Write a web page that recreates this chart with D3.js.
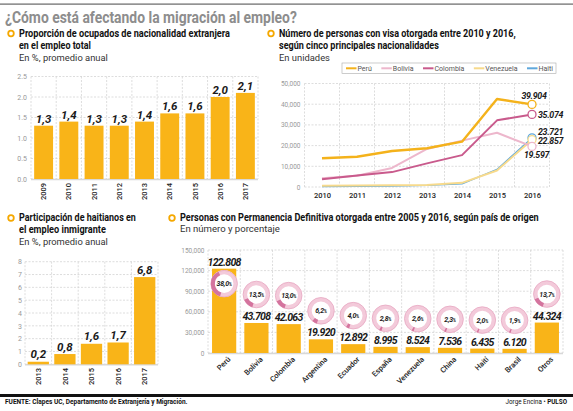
<!DOCTYPE html>
<html><head><meta charset="utf-8">
<script src="https://cdn.jsdelivr.net/npm/d3@7"></script>
<style>body{margin:0;background:#fff}svg{display:block}</style>
</head><body><svg id="c" width="573" height="411"></svg>
<script>
// ---------- DATA ----------
const yearsA = ['2009','2010','2011','2012','2013','2014','2015','2016','2017'];
const valuesA = [1.3,1.4,1.3,1.3,1.4,1.6,1.6,2.0,2.1];
const ticksA = [0,0.5,1.0,1.5,2.0,2.5];

const yearsB = ['2010','2011','2012','2013','2014','2015','2016'];
const peru      = [13900,14600,17400,18700,21900,42500,39904];
const bolivia   = [4200,5400,9200,18400,22400,26200,19597];
const colombia  = [3700,5500,7200,11400,15400,32200,35074];
const venezuela = [600,700,800,1000,2000,8000,22857];
const haiti     = [200,300,400,800,1500,8500,23721];
const seriesNames = ['Perú','Bolivia','Colombia','Venezuela','Haiti'];
const ticksB = [0,10000,20000,30000,40000,50000];

const yearsC = ['2013','2014','2015','2016','2017'];
const valuesC = [0.2,0.8,1.6,1.7,6.8];
const ticksC = [0,1,2,3,4,5,6,7,8];

const countriesD = ['Perú','Bolivia','Colombia','Argentina','Ecuador','España','Venezuela','China','Haití','Brasil','Otros'];
const valuesD = [122808,43708,42063,19920,12892,8995,8524,7536,6435,6120,44324];
const pctD = [38.0,13.5,13.0,6.2,4.0,2.8,2.6,2.3,2.0,1.9,13.7];
const ticksD = [0,30000,60000,90000,120000,150000];

// ---------- STYLE ----------
const F = "Roboto, 'Liberation Sans', sans-serif";
const BAR = '#F9B418';
const GRID = '#cfcfcf';
const colors = {'Perú':'#F4B21B','Bolivia':'#EDB7CC','Colombia':'#C95A8C','Venezuela':'#F7DA8C','Haiti':'#5FA8DC'};

const svg = d3.select('#c');
function T(g, x, y, s, o={}) {
  const t = g.append('text').attr('x',x).attr('y',y).text(s)
    .attr('font-family', o.family||F).attr('font-size', o.size||8)
    .attr('font-weight', o.weight||'normal').attr('font-style', o.style||'normal')
    .attr('fill', o.fill||'#222').attr('text-anchor', o.anchor||'start');
  if (o.ls!=null) t.attr('letter-spacing', o.ls);
  if (o.w) {
    const L = t.node().getComputedTextLength();
    const k = o.w / L;
    t.attr('transform', `translate(${x},0) scale(${k},1) translate(${-x},0)`);
  }
  return t;
}
function bullet(x,y){
  svg.append('circle').attr('cx',x).attr('cy',y).attr('r',2.8)
    .attr('fill','#fff').attr('stroke','#F5A800').attr('stroke-width',1.8);
}
function hline(g,x0,x1,y){ g.append('line').attr('x1',x0).attr('x2',x1).attr('y1',y).attr('y2',y)
  .attr('stroke',GRID).attr('stroke-width',0.7).attr('stroke-dasharray','2,1.5'); }
function vline(g,x,y0,y1){ g.append('line').attr('x1',x).attr('x2',x).attr('y1',y0).attr('y2',y1)
  .attr('stroke',GRID).attr('stroke-width',0.7).attr('stroke-dasharray','2,1.5'); }
function styleAxis(g, size, fill, weight){
  g.select('.domain').remove();
  g.selectAll('text').attr('font-family',F).attr('font-size',size).attr('fill',fill).attr('font-weight',weight||'normal');
}
const dec = v => d3.format('.1f')(v).replace('.',',');
const thou = v => d3.format(',')(v).replace(/,/g,'.');

// ---------- HEADER / FOOTER ----------
svg.append('rect').attr('x',0).attr('y',3.5).attr('width',573).attr('height',1.2).attr('fill','#666');
T(svg,5,23,'¿Cómo está afectando la migración al empleo?',{size:16.5,weight:700,fill:'#8d8d8d',w:292});
svg.append('rect').attr('x',0).attr('y',394).attr('width',573).attr('height',3).attr('fill','#111');
T(svg,5,404,'FUENTE: Clapes UC, Departamento de Extranjería y Migración.',{size:6.3,weight:700,fill:'#111',w:183});
const cr = T(svg,567,404,'',{size:6.3,fill:'#111',anchor:'end'});
cr.append('tspan').text('Jorge Encina • ');
cr.append('tspan').attr('font-weight',700).text('PULSO');

// ---------- PANEL A ----------
bullet(11,33.5);
T(svg,19,37,'Proporción de ocupados de nacionalidad extranjera',{size:10.5,weight:700,fill:'#111',w:211});
T(svg,19,49,'en el empleo total',{size:10.5,weight:700,fill:'#111',w:72});
T(svg,19,61,'En %, promedio anual',{size:9.5,fill:'#333',w:89});
{
  const g = svg.append('g');
  const x = d3.scaleBand().domain(yearsA).range([31,258]).paddingInner(0.25).paddingOuter(0.125);
  const y = d3.scaleLinear().domain([0,2.5]).range([179,76.5]);
  ticksA.forEach(t=>hline(g,31,258,y(t)));
  d3.range(yearsA.length+1).forEach(i=>vline(g,31+i*x.step(),y(2.5),y(0)));
  g.append('line').attr('x1',31).attr('x2',258).attr('y1',y(0)+0.5).attr('y2',y(0)+0.5).attr('stroke','#d8d8d8').attr('stroke-width',1.5);
  g.selectAll('rect.b').data(valuesA).join('rect').attr('class','b')
    .attr('x',(d,i)=>x(yearsA[i])).attr('width',x.bandwidth())
    .attr('y',d=>y(d)).attr('height',d=>y(0)-y(d)).attr('fill',BAR);
  g.selectAll('text.v').data(valuesA).join('text').attr('class','v')
    .attr('x',(d,i)=>x(yearsA[i])+x.bandwidth()/2).attr('y',d=>y(d)-3)
    .attr('text-anchor','middle').attr('font-family',F).attr('font-size',11.5)
    .attr('font-weight',700).attr('font-style','italic').attr('fill','#1a1a1a').text(d=>dec(d));
  const ya = g.append('g').attr('transform','translate(27,0)')
    .call(d3.axisLeft(y).tickValues(ticksA).tickFormat(d3.format('.1f')).tickSize(0).tickPadding(0));
  styleAxis(ya,7,'#999');
  const xa = g.append('g').attr('transform','translate(0,183)')
    .call(d3.axisBottom(x).tickSize(0).tickPadding(0));
  styleAxis(xa,7.5,'#222',500);
  xa.selectAll('text').attr('transform','rotate(-90)').attr('text-anchor','end').attr('x',0).attr('y',0).attr('dy','0.35em');
}

// ---------- PANEL B ----------
bullet(271,33.5);
T(svg,279,37,'Número de personas con visa otorgada entre 2010 y 2016,',{size:10.5,weight:700,fill:'#111',w:237});
T(svg,279,49,'según cinco principales nacionalidades',{size:10.5,weight:700,fill:'#111',w:160});
T(svg,279,61,'En unidades',{size:9.5,fill:'#333',w:51});
{
  const g = svg.append('g');
  const x = d3.scalePoint().domain(yearsB).range([304.5,549.5]).padding(0.5);
  const y = d3.scaleLinear().domain([0,50000]).range([187,83.5]);
  const step = x.step();
  ticksB.forEach(t=>hline(g,304.5,549.5,y(t)));
  d3.range(yearsB.length+1).forEach(i=>vline(g,304.5+i*step,y(50000),y(0)));
  const data = {'Perú':peru,'Bolivia':bolivia,'Colombia':colombia,'Venezuela':venezuela,'Haiti':haiti};
  const widths = {'Perú':2.4,'Bolivia':2,'Colombia':2,'Venezuela':2,'Haiti':1.4};
  const line = d3.line().x((d,i)=>x(yearsB[i])).y(d=>y(d));
  ['Haiti','Venezuela','Bolivia','Colombia','Perú'].forEach(n=>{
    g.append('path').datum(data[n]).attr('d',line).attr('fill','none')
      .attr('stroke',colors[n]).attr('stroke-width',widths[n]).attr('stroke-linejoin','round');
  });
  ['Haiti','Venezuela','Bolivia','Colombia','Perú'].forEach(n=>{
    const v = data[n][data[n].length-1];
    g.append('circle').attr('cx',x('2016')).attr('cy',y(v)).attr('r',4)
      .attr('fill','#fff').attr('stroke',colors[n]).attr('stroke-width',1.3);
  });
  const lab = {'Perú':[2,-5.5,'middle'],'Colombia':[6,3.5,'start'],'Haiti':[6,-3.3,'start'],'Venezuela':[6,4.5,'start'],'Bolivia':[-8,11.6,'start']};
  Object.keys(lab).forEach(n=>{
    const v = data[n][data[n].length-1];
    T(g,x('2016')+lab[n][0],y(v)+lab[n][1],thou(v),{size:8.8,weight:700,style:'italic',fill:'#1a1a1a',anchor:lab[n][2],ls:-0.3});
  });
  const ya = g.append('g').attr('transform','translate(300.5,0)')
    .call(d3.axisLeft(y).tickValues(ticksB).tickFormat(d3.format(',')).tickSize(0).tickPadding(0));
  styleAxis(ya,6.5,'#999');
  const xa = g.append('g').attr('transform','translate(0,193)')
    .call(d3.axisBottom(x).tickSize(0).tickPadding(0));
  styleAxis(xa,7.5,'#222',500);
  // legend
  const lg = svg.append('g');
  lg.append('rect').attr('x',342).attr('y',63).attr('width',214).attr('height',10.5)
    .attr('fill','#fff').attr('stroke','#aaa').attr('stroke-width',0.6);
  const items = seriesNames.map(n=>{
    const ln = lg.append('line').attr('y1',68.3).attr('y2',68.3)
      .attr('stroke',colors[n]).attr('stroke-width',2);
    const t = T(lg,0,71,n,{size:7,fill:'#555'});
    return {ln, t, w: t.node().getComputedTextLength()};
  });
  const total = d3.sum(items, d=>d.w + 11.5);
  const gap = (553 - 346 - total) / (items.length - 1);
  let cx = 346;
  items.forEach(it=>{
    it.ln.attr('x1',cx).attr('x2',cx+10.5);
    it.t.attr('x',cx+11.5);
    cx += 11.5 + it.w + gap;
  });
}

// ---------- PANEL C ----------
bullet(11,218);
T(svg,19,221.5,'Participación de haitianos en',{size:10.5,weight:700,fill:'#111',w:117});
T(svg,19,233.5,'el empleo inmigrante',{size:10.5,weight:700,fill:'#111',w:87});
T(svg,19,245.5,'En %, promedio anual',{size:9.5,fill:'#333',w:89});
{
  const g = svg.append('g');
  const x = d3.scaleBand().domain(yearsC).range([25,158]).paddingInner(0.2).paddingOuter(0.1);
  const y = d3.scaleLinear().domain([0,8]).range([364.3,261.7]);
  ticksC.forEach(t=>hline(g,25,158,y(t)));
  d3.range(yearsC.length+1).forEach(i=>vline(g,25+i*x.step(),y(8),y(0)));
  g.append('line').attr('x1',25).attr('x2',158).attr('y1',y(0)+0.5).attr('y2',y(0)+0.5).attr('stroke','#d8d8d8').attr('stroke-width',1.5);
  g.selectAll('rect.b').data(valuesC).join('rect').attr('class','b')
    .attr('x',(d,i)=>x(yearsC[i])).attr('width',x.bandwidth())
    .attr('y',d=>y(d)).attr('height',d=>y(0)-y(d)).attr('fill',BAR);
  g.selectAll('text.v').data(valuesC).join('text').attr('class','v')
    .attr('x',(d,i)=>x(yearsC[i])+x.bandwidth()/2).attr('y',d=>y(d)-3.5)
    .attr('text-anchor','middle').attr('font-family',F).attr('font-size',11.5)
    .attr('font-weight',700).attr('font-style','italic').attr('fill','#1a1a1a').text(d=>dec(d));
  const ya = g.append('g').attr('transform','translate(22,0)')
    .call(d3.axisLeft(y).tickValues(ticksC).tickFormat(d3.format('d')).tickSize(0).tickPadding(0));
  styleAxis(ya,7,'#999');
  const xa = g.append('g').attr('transform','translate(0,368)')
    .call(d3.axisBottom(x).tickSize(0).tickPadding(0));
  styleAxis(xa,7.5,'#222',500);
  xa.selectAll('text').attr('transform','rotate(-90)').attr('text-anchor','end').attr('x',0).attr('y',0).attr('dy','0.35em');
}

// ---------- PANEL D ----------
bullet(172,218);
T(svg,180,221.5,'Personas con Permanencia Definitiva otorgada entre 2005 y 2016, según país de origen',{size:10.5,weight:700,fill:'#111',w:359});
T(svg,180,232.5,'En número y porcentaje',{size:9.5,fill:'#333',w:100});
{
  const g = svg.append('g');
  const x = d3.scaleBand().domain(countriesD).range([208,563]).paddingInner(0.25).paddingOuter(0.125);
  const y = d3.scaleLinear().domain([0,150000]).range([353,250]);
  ticksD.forEach(t=>hline(g,208,563,y(t)));
  d3.range(countriesD.length+1).forEach(i=>vline(g,208+i*x.step(),y(150000),y(0)));
  g.append('line').attr('x1',208).attr('x2',563).attr('y1',y(0)+0.5).attr('y2',y(0)+0.5).attr('stroke','#d8d8d8').attr('stroke-width',1.5);
  g.selectAll('rect.b').data(valuesD).join('rect').attr('class','b')
    .attr('x',(d,i)=>x(countriesD[i])).attr('width',x.bandwidth())
    .attr('y',d=>y(d)).attr('height',d=>y(0)-y(d)).attr('fill',BAR);
  g.selectAll('text.v').data(valuesD).join('text').attr('class','v')
    .attr('x',(d,i)=>x(countriesD[i])+x.bandwidth()/2).attr('y',d=>y(d)-3)
    .attr('text-anchor','middle').attr('font-family',F).attr('font-size',10.5)
    .attr('font-weight',700).attr('font-style','italic').attr('fill','#1a1a1a')
    .attr('letter-spacing',-0.7).text(d=>thou(d));
  // donuts
  const ringArc = d3.arc().innerRadius(9.3).outerRadius(13.3);
  const a0 = Math.PI*1.1;
  countriesD.forEach((c,i)=>{
    const cx = x(c)+x.bandwidth()/2;
    const cy = i===0 ? y(valuesD[i])+15 : y(valuesD[i])-28.5;
    const dg = g.append('g').attr('transform',`translate(${cx},${cy})`);
    dg.append('circle').attr('r',13.3).attr('fill','#fff');
    dg.append('path').attr('d',ringArc({startAngle:0,endAngle:2*Math.PI})).attr('fill','#F3CADA');
    dg.append('circle').attr('r',13.3).attr('fill','none').attr('stroke','#E7A7C1').attr('stroke-width',0.8);
    dg.append('path').attr('d',ringArc({startAngle:a0,endAngle:a0+pctD[i]/100*2*Math.PI})).attr('fill','#D4749E');
    const t = dg.append('text').attr('x',0).attr('y',2.5).attr('text-anchor','middle')
      .attr('font-family',F).attr('font-weight',700).attr('font-style','italic').attr('fill','#222')
      .attr('font-size',7).attr('letter-spacing',-0.3);
    t.append('tspan').text(dec(pctD[i]));
    t.append('tspan').attr('font-size',4.5).text('%');
  });
  const ya = g.append('g').attr('transform','translate(204.5,0)')
    .call(d3.axisLeft(y).tickValues(ticksD).tickFormat(d3.format(',')).tickSize(0).tickPadding(0));
  styleAxis(ya,6.5,'#999');
  const xa = g.append('g').attr('transform','translate(0,358)')
    .call(d3.axisBottom(x).tickSize(0).tickPadding(0));
  styleAxis(xa,7.5,'#222',500);
  xa.selectAll('text').attr('transform','translate(5,0) rotate(-45)').attr('text-anchor','end').attr('x',0).attr('y',0).attr('dy','0.35em');
}
</script></body></html>
